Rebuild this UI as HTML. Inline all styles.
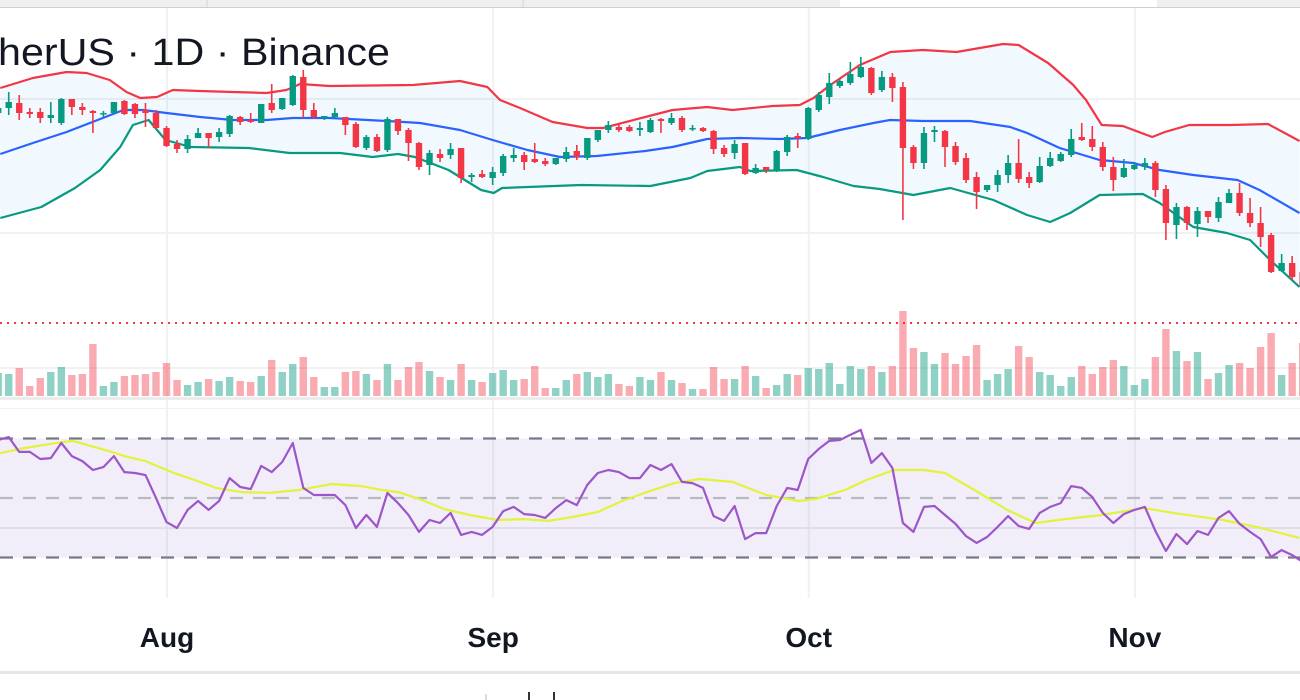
<!DOCTYPE html>
<html><head><meta charset="utf-8"><title>Chart</title>
<style>
html,body{margin:0;padding:0;background:#fff;width:1300px;height:700px;overflow:hidden}
svg{display:block}
</style></head>
<body>
<svg id="chart" xmlns="http://www.w3.org/2000/svg" width="1300" height="700" viewBox="0 0 1300 700"></svg>
<script>
// ---- data ----
const monthLabels = ["Aug","Sep","Oct","Nov"];
const monthIndex = [16, 47, 77, 108];
const opens  = [187,192,197,188,188,182,177,201,193,189,186,187,199,196,190,187,172,156,151,162,167,163,166,183,180,177,197,191,195,223,190,182,183,183,176,152,163,150,181,170,157,135,146,145,152,123,126,122,127,142,145,141,139,136,141,149,142,160,170,173,173,170,168,181,177,182,171,172,169,152,147,157,127,133,130,148,164,161,190,203,214,217,223,232,210,223,213,153,137,168,169,154,142,123,110,115,125,137,123,118,134,139,145,163,161,153,133,123,131,133,137,111,75,93,76,89,82,97,107,87,77,65,29,37,28];
const highs  = [194,208,205,192,192,198,202,201,197,190,189,198,200,197,197,190,174,160,165,172,167,172,185,184,187,196,216,202,225,230,197,184,192,183,178,165,166,183,181,172,158,150,151,157,152,127,130,133,146,152,148,157,142,142,153,155,162,170,179,176,175,178,182,182,187,184,175,173,170,155,160,157,136,133,150,165,167,193,208,227,221,238,243,233,229,227,218,155,173,174,170,158,147,128,115,130,145,161,128,143,148,148,171,177,174,158,143,141,138,142,139,115,97,94,93,89,103,111,117,102,93,67,46,44,30];
const lows   = [185,185,180,182,177,177,175,185,185,167,183,186,185,182,173,171,153,147,147,162,152,158,163,175,177,177,187,190,194,182,181,180,182,165,152,150,148,148,165,139,130,125,138,141,117,118,122,115,124,138,130,137,134,135,138,140,140,158,167,168,168,164,167,167,175,168,169,168,146,143,141,125,126,127,128,144,152,160,188,196,212,215,222,205,208,198,80,131,131,158,133,135,117,91,108,108,117,117,112,117,133,138,143,159,149,129,109,122,130,130,103,60,61,70,63,77,78,97,84,73,53,27,28,20,10];
const closes = [192,198,187,186,182,185,201,193,190,187,187,198,186,186,187,172,154,151,161,167,162,168,184,178,178,196,190,202,224,190,183,184,187,175,153,163,149,181,169,157,133,147,142,151,122,125,123,128,144,145,138,138,136,142,148,143,162,170,175,170,169,172,180,179,182,170,172,169,151,146,156,126,132,130,149,163,162,192,205,217,219,226,233,207,223,212,152,137,167,170,153,138,120,108,115,125,137,121,117,134,142,146,161,160,153,133,120,132,135,137,110,77,93,77,89,83,98,107,87,77,63,28,37,23,13];
const volumes = [23,22,28,10,18,24,29,21,22,52,10,14,20,21,22,24,33,16,11,14,17,15,19,15,14,20,36,24,32,39,19,9,9,24,25,22,16,32,16,29,34,25,19,16,32,16,14,23,26,16,17,30,8,8,16,22,24,19,22,12,10,19,16,24,16,13,7,7,29,17,17,30,20,8,11,22,21,28,27,33,12,30,27,30,24,30,85,48,44,32,43,32,40,51,16,22,27,50,39,24,21,10,19,30,22,29,36,30,11,17,39,67,45,35,44,17,23,31,33,28,49,63,21,33,53];
const volumeAlert = 73;
const upperIdx = [0.2,3.3,6.5,8.4,10.6,12.2,13.5,15.1,16.6,19.2,22.3,25.5,27.4,28.7,31.5,39.4,43.9,46.5,47.7,49.6,52.7,56,57.5,61.5,64.1,67.4,69.8,73.6,76.2,77.5,79.1,81.9,84.8,87.9,91.1,95.5,97,99.8,102.2,103.4,104.9,106.9,109.7,110.9,113.2,117.2,120.7,123.7];
const upperVal = [212,222,228,227,220,208,202,203,210,209,208,207,210,216,214,215,219,213,200,192,178,172,172,183,190,193,190,194,195,202,215,235,248,250,248,256,255,237,215,200,175,174,163,168,175,175,176,159];
const midIdx = [0.2,3.3,6.5,9.7,11.9,13.8,16,19.2,22.3,25.5,28,31.5,37,40.1,43.9,47,50.3,53.4,56.9,61.5,64.1,67.4,70.5,74.3,76.9,80,83.2,84.8,87.9,92.4,96.2,97.8,100.9,104.7,107.9,110.4,113.6,117.8,119.9,123.7];
const midVal = [146,157,168,181,190,190,187,183,180,180,182,182,179,177,170,160,150,143,144,149,153,161,162,161,162,170,177,180,179,179,173,167,152,140,137,130,125,120,110,87];
const lowerIdx = [0.2,4.1,7.3,9.7,11.6,12.8,14.3,15.9,18.3,23.8,27.7,32.5,35.6,38,39.6,42.8,45.9,47.1,47.9,55.4,62,65.8,67.4,70.5,71.5,75.9,78.4,81.3,83.8,87,90.5,94.6,97.8,100,101.9,104.7,108.8,110.4,113.6,116.8,119,120.9,123.7];
const lowerVal = [82,93,112,130,153,175,180,160,153,152,147,147,143,146,143,130,110,107,112,115,114,122,129,133,129,130,123,114,111,105,112,100,85,78,87,105,106,97,73,67,60,40,13];
const rsiValues = [69.5,70.5,65.5,65.5,63.1,63.4,68.5,64.1,62.4,59.4,60.4,64.1,58.7,58.4,57.7,50,41.9,39.9,46,49,46,49,56.7,53.7,53,60.8,58.7,62.1,68.5,53.4,51,51,51,47.6,39.9,44.3,40.3,51.7,48.3,44.3,38.6,42.6,41.6,45,37.6,38.6,37.6,40.3,45.6,47,44.6,44.3,43.3,46.6,49.3,47.6,54.4,58.4,59.4,58.7,56.7,56.7,61.1,59.4,61.4,55.4,55,53.4,43.9,42.3,47.3,36.2,38.2,38.2,47.3,53.4,52.7,63.1,66.5,69.2,69.5,71.2,72.9,61.8,65.1,60.1,41.6,38.6,47,47.3,44.3,41.3,37.2,34.9,36.9,40.3,43.9,40.6,39.6,45,47,48.3,54,53.4,50.3,45,41.6,44.6,46,47,38.9,32.2,37.9,34.5,38.9,37.6,43.3,45.6,41.3,38.6,36.2,30.2,32.5,30.8,28.5];
const rsiMaIdx = [0.2,2.5,6.1,7.1,10.8,12,14,16.7,18.7,20.7,23.1,25.8,28.6,31.7,34.5,36.5,38,40,42.4,44.8,47.5,49.9,52.3,54.6,57,59.3,62,64.3,66.7,69.8,73,76.1,77.7,80.5,82.5,85.2,88,90,92.8,95.9,98.6,101.4,104.9,108.9,111.7,116.4,119.6,123.7];
const rsiMaVal = [65.1,66.8,68.8,69.2,65.5,64.1,62.4,58.4,56,53.4,52,51.7,52.7,54.7,54,52.7,52,49.7,46.3,44.3,42.6,42.9,42.3,43.6,45.3,49,52.4,55,56.4,55.4,51,49,49.7,52.7,56,59.4,59.4,58.4,52.7,46,41.6,42.9,44.3,46.6,45,42.6,40.3,36.6];
const rsiLevels = [70, 50, 30];

// ---- scales ----
const X0 = -1.8, DX = 10.52;
const xAt = i => X0 + i * DX;
const yPrice = p => 300 - p;
const VOL_BASE = 396;
const yVol = v => VOL_BASE - v;
const yRsi = v => 498 - (v - 50) * 2.975;

const NS = "http://www.w3.org/2000/svg";
const svgRoot = document.getElementById("chart");
function mk(tag, attrs, parent) {
  const e = document.createElementNS(NS, tag);
  for (const k in attrs) e.setAttribute(k, attrs[k]);
  (parent || svgRoot).appendChild(e);
  return e;
}
const GREEN = "#089981", RED = "#F23645";

// top bar
const topBar = mk("g", {});


mk("rect", {x:0,y:0,width:840,height:7,fill:"#efefef"}, topBar);
mk("rect", {x:1157,y:0,width:143,height:7,fill:"#efefef"}, topBar);
mk("line", {x1:207,y1:0,x2:207,y2:7,stroke:"#d6d6d6"}, topBar);
mk("line", {x1:523,y1:0,x2:523,y2:7,stroke:"#d6d6d6"}, topBar);
mk("line", {x1:0,y1:7.5,x2:1300,y2:7.5,stroke:"#cfcfcf"}, topBar);

// grid
const grid = mk("g", {});


monthIndex.forEach(i => {
  const gx = xAt(i) + 0.5;
  mk("line", {x1:gx,y1:8,x2:gx,y2:598,stroke:"#f0f1f3","stroke-width":2}, grid);
});
[99, 233].forEach(y => mk("line", {x1:0,y1:y,x2:1300,y2:y,stroke:"#f0f1f3","stroke-width":2}, grid));
mk("line", {x1:0,y1:368,x2:1300,y2:368,stroke:"#f0f1f3","stroke-width":2}, grid);
mk("line", {x1:0,y1:528,x2:1300,y2:528,stroke:"#ebebef","stroke-width":2}, grid);

// bands
function pathFrom(idx, vals, yf) {
  return idx.map((i, k) => (k ? "L" : "M") + xAt(i).toFixed(1) + " " + yf(vals[k]).toFixed(1)).join(" ");
}
const bb = mk("g", {});


const upD = pathFrom(upperIdx, upperVal, yPrice);
const loRev = lowerIdx.map((i, k) => [i, lowerVal[k]]).reverse();
const fillD = upD + " " + loRev.map(([i, v]) => "L" + xAt(i).toFixed(1) + " " + yPrice(v).toFixed(1)).join(" ") + " Z";
const bf = mk("path", {d:fillD, fill:"rgba(33,150,243,0.06)"}, bb);


const ub = mk("path", {d:upD, fill:"none", stroke:RED, "stroke-width":2.2, "stroke-linejoin":"round"}, bb);


const mb = mk("path", {d:pathFrom(midIdx, midVal, yPrice), fill:"none", stroke:"#2962FF", "stroke-width":2.2, "stroke-linejoin":"round"}, bb);


const lb = mk("path", {d:pathFrom(lowerIdx, lowerVal, yPrice), fill:"none", stroke:GREEN, "stroke-width":2.2, "stroke-linejoin":"round"}, bb);



// candles
const cg = mk("g", {});


opens.forEach((o, i) => {
  const c = closes[i], col = c >= o ? GREEN : RED, cx = xAt(i);
  const g = mk("g", {}, cg);
  
  
  mk("line", {x1:cx,y1:yPrice(highs[i]),x2:cx,y2:yPrice(lows[i]),stroke:col,"stroke-width":1.6}, g);
  const t = yPrice(Math.max(o, c)), b = yPrice(Math.min(o, c));
  mk("rect", {x:cx-3.2,y:t,width:6.4,height:Math.max(1.5,b-t),fill:col}, g);
});

// title
const title = mk("text", {x:-2,y:65,"font-family":"Liberation Sans, sans-serif","font-size":38,fill:"#131722",textLength:392,lengthAdjust:"spacingAndGlyphs"});
title.textContent = "herUS · 1D · Binance";



// volume
const vg = mk("g", {});


volumes.forEach((v, i) => {
  const col = closes[i] >= opens[i] ? "rgba(8,153,129,0.45)" : "rgba(242,54,69,0.42)";
  const r = mk("rect", {x:xAt(i)-3.7,y:yVol(v),width:7.4,height:v,fill:col}, vg);
  
  
});
const va = mk("line", {x1:0,y1:yVol(volumeAlert),x2:1300,y2:yVol(volumeAlert),stroke:RED,"stroke-width":2,"stroke-dasharray":"2 5"});



// separators
mk("rect", {x:0,y:397,width:1300,height:3,fill:"#ececec"});
mk("line", {x1:0,y1:408.5,x2:1300,y2:408.5,stroke:"#f0f0f0"});

// RSI pane
const rg = mk("g", {});


const rb = mk("rect", {x:0,y:yRsi(rsiLevels[0]),width:1300,height:yRsi(rsiLevels[2])-yRsi(rsiLevels[0]),fill:"rgba(126,87,194,0.1)"}, rg);


rsiLevels.forEach((lv, k) => {
  const l = mk("line", {x1:0,y1:yRsi(lv),x2:1300,y2:yRsi(lv),stroke:k===1?"#b9bac0":"#787B86","stroke-width":2.2,"stroke-dasharray":"13 10"}, rg);
  
  
});
const rma = mk("path", {d:pathFrom(rsiMaIdx, rsiMaVal, yRsi), fill:"none", stroke:"#e3f23a", "stroke-width":2.2, "stroke-linejoin":"round"}, rg);


const rl = mk("path", {d:pathFrom(rsiValues.map((_, i) => i), rsiValues, yRsi), fill:"none", stroke:"#9c56c9", "stroke-width":2.2, "stroke-linejoin":"round"}, rg);



// time axis
const ax = mk("g", {});


monthLabels.forEach((m, k) => {
  const t = mk("text", {x:xAt(monthIndex[k]) + 0.5, y:647, "text-anchor":"middle", "font-family":"Liberation Sans, sans-serif", "font-weight":"bold", "font-size":28, fill:"#131722"}, ax);
  t.textContent = m;
  
  
});
mk("rect", {x:0,y:671,width:1300,height:3,fill:"#e6e6e6"});
mk("line", {x1:486,y1:694,x2:486,y2:700,stroke:"#cfcfcf","stroke-width":1.5});
mk("rect", {x:528,y:692,width:2,height:8,fill:"#333"});
mk("rect", {x:553,y:692,width:2,height:8,fill:"#333"});
</script>
</body></html>
